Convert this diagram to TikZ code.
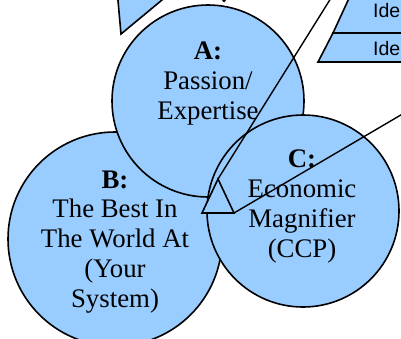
\documentclass[tikz,border=0pt]{standalone}
\usepackage{fontspec}
\setmainfont{Liberation Serif}
\newfontfamily\layersans{Liberation Sans}
\usepackage{tikz}
\definecolor{ringblue}{RGB}{153,204,255}

\begin{document}
\begin{tikzpicture}[x=1pt,y=-1pt,
            ring/.style={draw,circle,fill=ringblue,line width=1.6pt,inner sep=0pt},
            ringtext/.style={align=center,anchor=base,font=\fontsize{26.8}{29.7}\selectfont},
            layer/.style={draw,fill=ringblue,line width=1.6pt},
            layertext/.style={anchor=base west,inner sep=0pt,font=\layersans\fontsize{19.5}{22}\selectfont},
            link/.style={draw,line width=1.4pt}
          ]
          \useasboundingbox (0,0) rectangle (401,338);
          \clip (0,0) rectangle (401,338);

          %shapes cut by the edge
          \draw[layer] (117.5,-5) -- (121,34) -- (168,-5);
          \fill (221,-1) -- (227,-1) -- (224,2.5) -- cycle;
          \draw[layer] (350.5,-5) -- (333,33) -- (405,33) -- (405,-5);
          \draw[layer] (333,33) -- (318,62) -- (405,62) -- (405,33) -- cycle;
          \node[layertext] (ide1) at (373,17) {Ide};
          \node[layertext] (ide2) at (373,55) {Ide};

          %circles
          \node[ring,minimum size=214pt] (B) at (115,239) {};
          \node[ring,minimum size=192pt] (A) at (208,101) {};
          \node[ring,minimum size=192pt] (C) at (303,211) {};

          %labels (anchored on the last line)
          \node[ringtext] (Alab) at (208,119) {\textbf{A:}\\Passion/\\Expertise};
          \node[ringtext] (Blab) at (115,307) {\textbf{B:}\\The Best In\\The World At\\(Your\\System)};
          \node[ringtext] (Clab) at (302,257) {\textbf{C:}\\Economic\\Magnifier\\(CCP)};

          %pointer
          \coordinate (apex) at (218,179);
          \coordinate (baseL) at (202,213);
          \coordinate (baseR) at (234,213);
          \coordinate (upEnd) at (333.5,-6);
          \coordinate (rightEnd) at (411,109);
          \path[link] (apex) -- (upEnd);
          \path[link] (baseR) -- (rightEnd);
          \draw[layer] (apex) -- (baseL) -- (baseR) -- cycle;
      \end{tikzpicture}
\end{document}
